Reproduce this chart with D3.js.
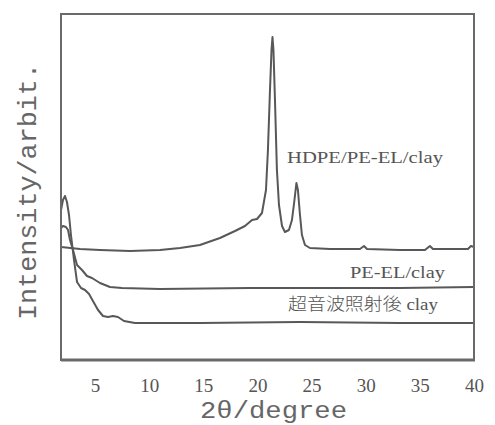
<!DOCTYPE html>
<html><head><meta charset="utf-8">
<script src="https://cdn.jsdelivr.net/npm/d3@7"></script>
<style>body{margin:0;background:#fff}</style>
</head><body>
<script>
// 2θ (degree) and intensity (arbitrary units)
const hdpeTheta = [1.86,3.61,5.46,8.23,11.00,12.85,14.69,16.54,17.93,18.85,19.50,19.96,20.42,20.79,20.97,21.16,21.30,21.39,21.48,21.62,21.80,21.99,22.27,22.54,22.91,23.19,23.42,23.60,23.74,23.93,24.11,24.39,24.85,26.70,29.47,29.84,30.12,33.16,35.47,35.93,36.21,38.24,39.44,39.72,40.00];
const hdpeInt   = [113,111,110,109,110,112,115,122,129,134,140,141,147,170,210,270,310,323,310,260,190,155,134,128,130,140,160,177,170,145,125,115,112,111,111,114,111,110,110,114,111,111,111,114,113];
const peelTheta = [1.86,2.04,2.32,2.51,2.69,2.97,3.34,3.80,4.26,4.72,5.46,6.38,7.49,11.00,19.31,28.54,33.16,40.00];
const peelInt   = [132,134,133,130,120,110,95,90,84,82,77,73,72,71,72,72,72,73];
const clayTheta = [1.86,2.04,2.23,2.41,2.60,2.78,3.06,3.34,3.71,4.08,4.45,4.81,5.28,5.74,6.20,6.66,7.12,7.68,8.69,14.69,23.93,33.16,40.00];
const clayInt   = [150,160,164,158,145,125,100,78,72,70,66,59,50,44,43,44,43,39,37,37,38,37,37];
const xTicks = [5,10,15,20,25,30,35,40];
const seriesLabels = ["HDPE/PE-EL/clay","PE-EL/clay","超音波照射後"];
const xTitle = "2θ/degree";
const yTitle = "Intensity/arbit.";

const W = 495, H = 425;
const L = 61, R = 474, T = 14, B = 360;
const svg = d3.select("body").append("svg").attr("width", W).attr("height", H);
const x = d3.scaleLinear().domain([1.86, 40]).range([L, R]);
const y = d3.scaleLinear().domain([0, 346]).range([B, T]);
const col = "#585858";

const line = d3.line().x(d => x(d[0])).y(d => y(d[1]));
const series = [
  d3.zip(hdpeTheta, hdpeInt),
  d3.zip(peelTheta, peelInt),
  d3.zip(clayTheta, clayInt)
];
svg.append("g").selectAll("path").data(series).join("path")
  .attr("d", line).attr("fill", "none").attr("stroke", col)
  .attr("stroke-width", 2).attr("stroke-linejoin", "round");

// frame
svg.append("rect").attr("x", L).attr("y", T).attr("width", R - L).attr("height", B - T)
  .attr("fill", "none").attr("stroke", "#6a6a6a").attr("stroke-width", 2);
svg.append("line").attr("x1", L).attr("x2", R + 1).attr("y1", B).attr("y2", B)
  .attr("stroke", "#6a6a6a").attr("stroke-width", 3);

// x axis tick labels
const ax = svg.append("g").attr("transform", `translate(0,${B})`)
  .call(d3.axisBottom(x).tickValues(xTicks).tickSize(0).tickPadding(19).tickFormat(d3.format("d")));
ax.select(".domain").remove();
ax.selectAll("text").attr("font-family", "Liberation Serif, serif").attr("font-size", 19).attr("fill", "#555");

// axis titles
svg.append("text").attr("x", 200).attr("y", 418).attr("textLength", 147).attr("lengthAdjust", "spacingAndGlyphs")
  .attr("font-family", "Liberation Mono, monospace").attr("font-size", 23).attr("fill", "#666").text(xTitle);
svg.append("text").attr("transform", "translate(36,320) rotate(-90)").attr("textLength", 257).attr("lengthAdjust", "spacingAndGlyphs")
  .attr("font-family", "Liberation Mono, monospace").attr("font-size", 26).attr("fill", "#666").text(yTitle);

// series labels
const lab = svg.append("g").attr("font-family", "Liberation Serif, serif").attr("font-size", 17).attr("fill", "#555");
lab.append("text").attr("x", 287).attr("y", 163).attr("textLength", 156).attr("lengthAdjust", "spacingAndGlyphs").text(seriesLabels[0]);
lab.append("text").attr("x", 350).attr("y", 278).attr("textLength", 95).attr("lengthAdjust", "spacingAndGlyphs").text(seriesLabels[1]);
const t3 = lab.append("text").attr("x", 288).attr("y", 310).attr("textLength", 150).attr("lengthAdjust", "spacingAndGlyphs");
t3.append("tspan").attr("font-family", "Noto Sans CJK JP").attr("font-size", 17).attr("font-weight", 300).text(seriesLabels[2]);
t3.append("tspan").text(" clay");
</script>
</body></html>
